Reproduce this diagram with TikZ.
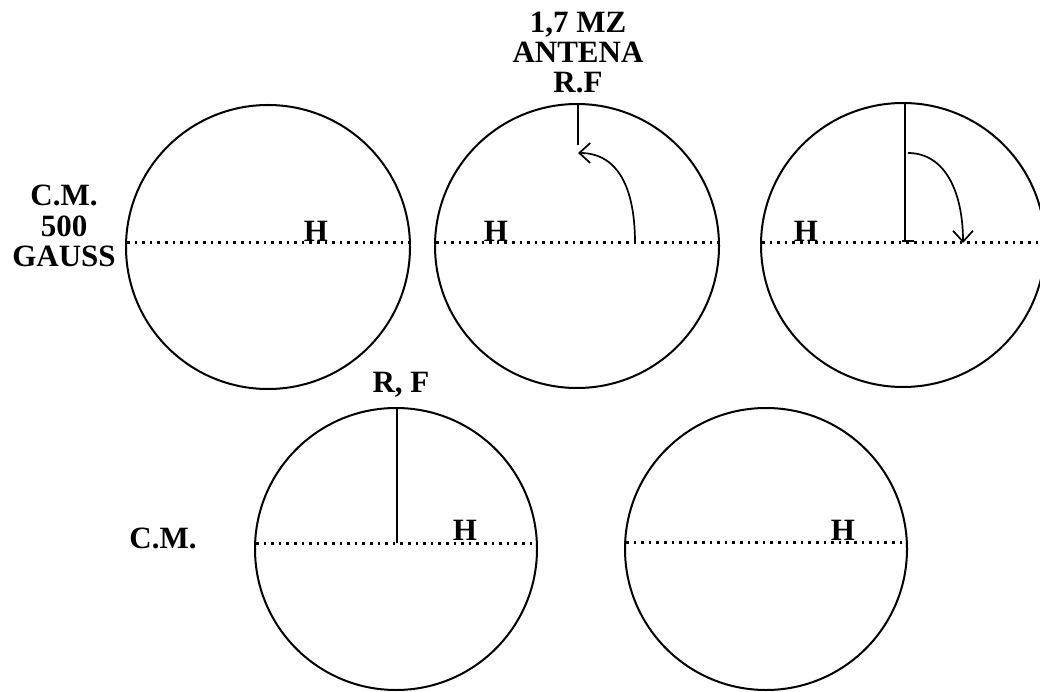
\documentclass[tikz,border=0pt]{standalone}
\usepackage{fontspec}
\setmainfont{Liberation Serif}
\usetikzlibrary{arrows.meta}
\begin{document}
\begin{tikzpicture}[x=1pt,y=-1pt,
  ring/.style={line width=2pt},
  axisline/.style={line width=3pt, dash pattern=on 2.6pt off 5pt},
  lbl/.style={font=\fontsize{31}{30}\selectfont\bfseries, inner sep=0pt, anchor=base},
  thinline/.style={line width=1.4pt},
  thickline/.style={line width=2.6pt},
  turn/.style={line width=1.7pt, -{Straight Barb[length=11pt,width=20pt,line width=1.7pt]}}]
\useasboundingbox (0,0) rectangle (1040,692);
\clip (0,0) rectangle (1040,692);

% circles
\coordinate (c1) at (268,247);
\coordinate (c2) at (577,246);
\coordinate (c3) at (903,245);
\coordinate (c4) at (396,549);
\coordinate (c5) at (766,549);
\draw[ring] (c1) circle[radius=142];
\draw[ring] (c2) circle[radius=142];
\draw[ring] (c3) circle[radius=142];
\draw[ring] (c4) circle[radius=141];
\draw[ring] (c5) circle[radius=141];

% horizontal dotted field lines
\coordinate (a1l) at (127,243); \coordinate (a1r) at (409,243);
\coordinate (a2l) at (436,243); \coordinate (a2r) at (718,243);
\coordinate (a3l) at (762,243); \coordinate (a3r) at (1044,243);
\coordinate (a4l) at (256,543); \coordinate (a4r) at (536,543);
\coordinate (a5l) at (626,542); \coordinate (a5r) at (906,542);
\draw[axisline] (a1l) -- (a1r);
\draw[axisline] (a2l) -- (a2r);
\draw[axisline] (a3l) -- (a3r);
\draw[axisline] (a4l) -- (a4r);
\draw[axisline] (a5l) -- (a5r);

% H labels
\node[lbl] (h1) at (316,242) {H};
\node[lbl] (h2) at (496,242) {H};
\node[lbl] (h3) at (806,242) {H};
\node[lbl] (h4) at (465,540) {H};
\node[lbl] (h5) at (843,540) {H};

% side labels
\node[lbl] (cm1) at (64,206) {C.M.};
\node[lbl] (g500) at (64,237) {500};
\node[lbl] (gauss) at (64,267) {GAUSS};
\node[lbl] (mz) at (578,33) {1,7 MZ};
\node[lbl] (ant) at (578,63) {ANTENA};
\node[lbl] (rf1) at (578,93) {R.F};
\node[lbl] (rf2) at (401,392) {R, F};
\node[lbl] (cm2) at (163,548) {C.M.};

% circle 2: short RF line and rotation arrow
\coordinate (v2t) at (578,103);
\coordinate (v2b) at (578,145);
\draw[thinline] (v2t) -- (v2b);
\coordinate (s2) at (635,243);
\coordinate (e2) at (578,153);
\draw[turn] (s2) .. controls (635,188) and (618,153) .. (e2);

% circle 3: RF line and rotation arrow
\coordinate (v3t) at (905,102);
\coordinate (v3b) at (905,241);
\draw[thickline] (v3t) -- (v3b);
\coordinate (f3l) at (902,241);
\coordinate (f3r) at (914,241);
\draw[thickline] (f3l) -- (f3r);
\coordinate (s3) at (908,153);
\coordinate (e3) at (963,243);
\draw[turn] (s3) .. controls (945,153) and (963,192) .. (e3);

% circle 4: RF line
\coordinate (v4t) at (397,408);
\coordinate (v4b) at (397,543);
\draw[thinline] (v4t) -- (v4b);
\end{tikzpicture}
\end{document}
